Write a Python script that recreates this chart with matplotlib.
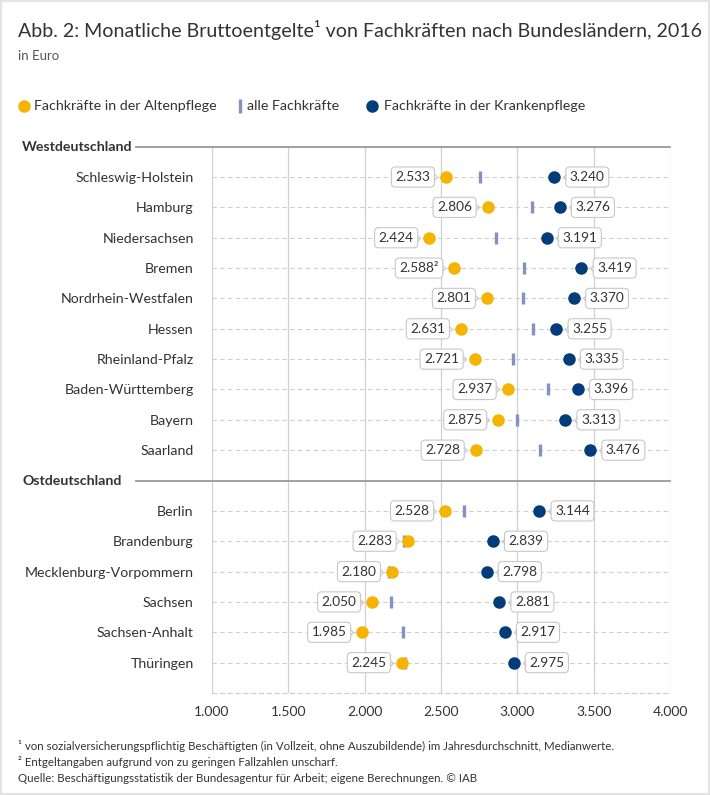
import numpy as np
import matplotlib
matplotlib.use("Agg")
import matplotlib.pyplot as plt
from matplotlib.lines import Line2D
from matplotlib.patches import Rectangle
from matplotlib.path import Path
from matplotlib.transforms import offset_copy

plt.rcParams['font.family'] = ['Lato', 'DejaVu Sans']

west = ["Schleswig-Holstein", "Hamburg", "Niedersachsen", "Bremen", "Nordrhein-Westfalen",
        "Hessen", "Rheinland-Pfalz", "Baden-Württemberg", "Bayern", "Saarland"]
ost = ["Berlin", "Brandenburg", "Mecklenburg-Vorpommern", "Sachsen", "Sachsen-Anhalt", "Thüringen"]

alten_west = [2533, 2806, 2424, 2588, 2801, 2631, 2721, 2937, 2875, 2728]
alle_west = [2758, 3092, 2861, 3042, 3036, 3103, 2972, 3202, 2999, 3147]
kranken_west = [3240, 3276, 3191, 3419, 3370, 3255, 3335, 3396, 3313, 3476]

alten_ost = [2528, 2283, 2180, 2050, 1985, 2245]
alle_ost = [2653, 2258, 2157, 2170, 2251, 2265]
kranken_ost = [3144, 2839, 2798, 2881, 2917, 2975]

alten_lbl_west = ["2.533", "2.806", "2.424", "2.588²", "2.801", "2.631", "2.721", "2.937", "2.875", "2.728"]
alten_lbl_ost = ["2.528", "2.283", "2.180", "2.050", "1.985", "2.245"]

xticks = [1000, 1500, 2000, 2500, 3000, 3500, 4000]
xticklabels = ["1.000", "1.500", "2.000", "2.500", "3.000", "3.500", "4.000"]

YELLOW = "#F4B400"
NAVY = "#023C7A"
TICKC = "#8591BE"
TXT = "#333333"

labels = west + ost
alten = alten_west + alten_ost
alle = alle_west + alle_ost
kranken = kranken_west + kranken_ost
alten_lbl = alten_lbl_west + alten_lbl_ost
kranken_lbl = [f"{v // 1000}.{v % 1000:03d}" for v in kranken]
ypos = list(range(len(west))) + list(range(len(west) + 1, len(west) + 1 + len(ost)))

fig = plt.figure(figsize=(7.1, 7.95), dpi=100)
ax = fig.add_axes([0.2982, 0.1283, 0.6459, 0.6872])
ax.set_xlim(1000, 4000)
ax.set_ylim(17, -1)

for s in ["top", "left", "right"]:
    ax.spines[s].set_visible(False)
ax.spines["bottom"].set_linestyle((0, (4, 3)))
ax.spines["bottom"].set_color("#cccccc")
ax.spines["bottom"].set_linewidth(0.8)

ax.set_xticks(xticks)
ax.set_xticklabels(xticklabels)
ax.set_yticks(ypos)
ax.set_yticklabels(labels)
ax.tick_params(axis="y", length=0, pad=13, labelsize=10.2, labelcolor=TXT)
ax.tick_params(axis="x", length=0, pad=9, labelsize=10, labelcolor=TXT)
for x in xticks:
    ax.axvline(x, color="#d0d0d0", lw=0.9, zorder=0)
for y in ypos:
    ax.axhline(y, color="#d0d0d0", lw=0.8, ls=(0, (4, 3)), zorder=0)

# group headers
for y, name in [(-1, "Westdeutschland"), (len(west), "Ostdeutschland")]:
    ax.plot([-0.165, 1], [y, y], transform=ax.get_yaxis_transform(), color="#999999",
            lw=1.3, clip_on=False, zorder=3)
    ax.text(-0.4137, y, name, transform=ax.get_yaxis_transform(), ha="left", va="center",
            fontsize=10.2, fontweight="bold", color=TXT)

ax.plot(alle, ypos, ls="none", marker="|", ms=9, mew=2.4, color=TICKC, zorder=3)
ax.plot(alten, ypos, ls="none", marker="o", ms=8, color=YELLOW, zorder=4)
ax.plot(kranken, ypos, ls="none", marker="o", ms=8, color=NAVY, zorder=4)

chev_r = Path([(-1, 1), (0, 0), (-1, -1)], [Path.MOVETO, Path.LINETO, Path.LINETO])
chev_l = Path([(1, 1), (0, 0), (1, -1)], [Path.MOVETO, Path.LINETO, Path.LINETO])
box = dict(boxstyle="round,pad=0.3,rounding_size=0.3", fc="white", ec="#c8c8c8", lw=0.8)
tr_l = offset_copy(ax.transData, fig=fig, x=-9, y=0, units="dots")
tr_r = offset_copy(ax.transData, fig=fig, x=9, y=0, units="dots")
for xa, xk, y, la, lk in zip(alten, kranken, ypos, alten_lbl, kranken_lbl):
    ax.annotate(la, (xa, y), xytext=(-11.3, 0), textcoords="offset points", ha="right",
                va="center", fontsize=9.8, color=TXT, bbox=box, zorder=5)
    ax.annotate(lk, (xk, y), xytext=(11.3, 0), textcoords="offset points", ha="left",
                va="center", fontsize=9.8, color=TXT, bbox=box, zorder=5)
    ax.plot([xa], [y], marker=chev_r, ms=4, mew=0.8, color="#c8c8c8", mfc="none",
            transform=tr_l, zorder=6, clip_on=False)
    ax.plot([xk], [y], marker=chev_l, ms=4, mew=0.8, color="#c8c8c8", mfc="none",
            transform=tr_r, zorder=6, clip_on=False)

# title and notes
fig.text(18 / 710, 1 - 30 / 795, "Abb. 2: Monatliche Bruttoentgelte¹ von Fachkräften nach Bundesländern, 2016",
         fontsize=14.1, color=TXT, va="center", ha="left")
fig.text(18 / 710, 1 - 56 / 795, "in Euro", fontsize=9.5, color="#555555", va="center", ha="left")

# legend
ly = 1 - 106 / 795
fig.add_artist(Line2D([24 / 710], [ly], marker="o", ms=8, color=YELLOW, ls="none", transform=fig.transFigure))
fig.text(34 / 710, ly, "Fachkräfte in der Altenpflege", fontsize=10.3, color=TXT, va="center")
fig.add_artist(Line2D([240 / 710], [ly], marker="|", ms=10, mew=2.4, color=TICKC, ls="none", transform=fig.transFigure))
fig.text(247 / 710, ly, "alle Fachkräfte", fontsize=10.3, color=TXT, va="center")
fig.add_artist(Line2D([372 / 710], [ly], marker="o", ms=8, color=NAVY, ls="none", transform=fig.transFigure))
fig.text(384 / 710, ly, "Fachkräfte in der Krankenpflege", fontsize=10.3, color=TXT, va="center")

notes = ["¹ von sozialversicherungspflichtig Beschäftigten (in Vollzeit, ohne Auszubildende) im Jahresdurchschnitt, Medianwerte.",
         "² Entgeltangaben aufgrund von zu geringen Fallzahlen unscharf.",
         "Quelle: Beschäftigungsstatistik der Bundesagentur für Arbeit; eigene Berechnungen. © IAB"]
for i, n in enumerate(notes):
    fig.text(18 / 710, 1 - (746 + 16.5 * i) / 795, n, fontsize=8.3, color=TXT, va="center", ha="left")

fig.add_artist(Rectangle((0, 0), 1, 1, transform=fig.transFigure, fill=False, ec="#e4e4e4", lw=3))

fig.savefig("out.png", dpi=100)
